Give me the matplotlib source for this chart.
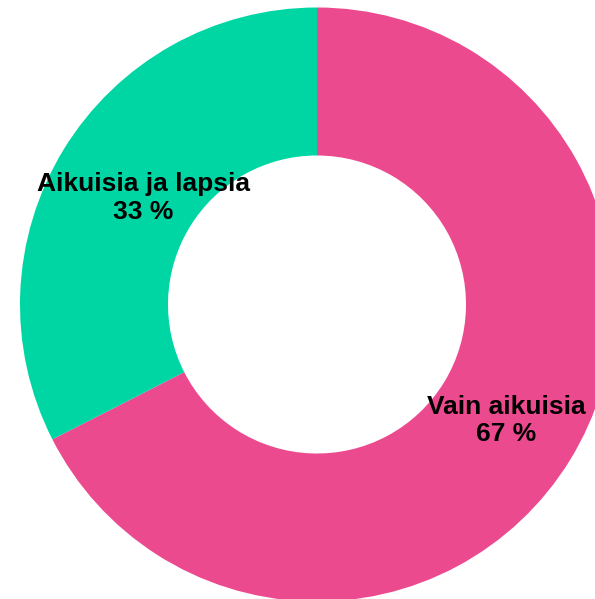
import numpy as np
import matplotlib.pyplot as plt

# --------------------- Data ---------------------
categories = ['Vain aikuisia', 'Aikuisia ja lapsia']
shares = [67.5, 32.5]
share_labels = ['67 %', '33 %']
colors = ['#EC4A8F', '#00D6A4']

# --------------------- Plot ---------------------
fig = plt.figure(figsize=(5.95, 5.99), dpi=100)
ax = fig.add_axes([0, 0, 1, 1])

cx, cy, R = 317, 294.5, 297
wedges, _ = ax.pie(shares, colors=colors, startangle=90, counterclock=False,
                   center=(cx, cy), radius=R,
                   wedgeprops=dict(width=148, linewidth=0))

# label radius as fraction of outer radius (slightly different per label, like the original)
label_frac = [0.748, 0.686]
for w, name, pct, f in zip(wedges, categories, share_labels, label_frac):
    mid = np.deg2rad((w.theta1 + w.theta2) / 2)
    ax.text(cx + f * R * np.cos(mid), cy + f * R * np.sin(mid), f'{name}\n{pct}',
            ha='center', va='center', multialignment='center',
            fontsize=19, fontweight='bold', family='Liberation Sans')

ax.set_xlim(0, 595)
ax.set_ylim(0, 599)
ax.set_aspect('equal')
ax.axis('off')

fig.savefig('out.png', dpi=100)
